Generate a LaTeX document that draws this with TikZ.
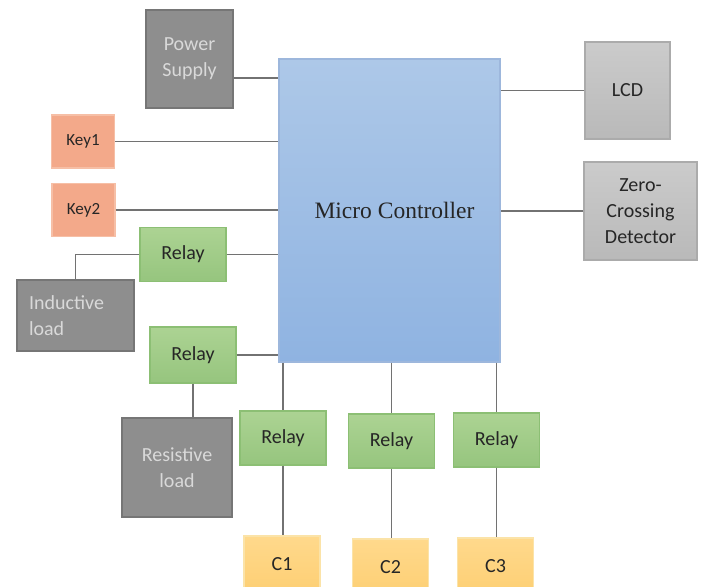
\documentclass[tikz,border=0pt]{standalone}
\usepackage{fontspec}
\setmainfont{Carlito}
\newfontfamily\serifmc{Liberation Serif}
\usetikzlibrary{calc}

%--------------------------------------------
% Cores do diagrama
%--------------------------------------------
\definecolor{linha}{HTML}{727272}
\definecolor{azulA}{HTML}{ADC8E8}
\definecolor{azulB}{HTML}{8FB3E1}
\definecolor{azulBorda}{HTML}{9DB7DC}
\definecolor{cinzaEsc}{HTML}{8E8E8E}
\definecolor{cinzaEscBorda}{HTML}{767676}
\definecolor{cinzaCla}{HTML}{CBCBCB}
\definecolor{cinzaClaB}{HTML}{B9B9B9}
\definecolor{cinzaClaBorda}{HTML}{ABABAB}
\definecolor{laranja}{HTML}{F3A98A}
\definecolor{laranjaBorda}{HTML}{F6BFA6}
\definecolor{verdeA}{HTML}{ACD393}
\definecolor{verdeB}{HTML}{96C57E}
\definecolor{verdeBorda}{HTML}{8CBF74}
\definecolor{amarelo}{HTML}{FFD98C}
\definecolor{amareloB}{HTML}{FDCF74}
\definecolor{amareloBorda}{HTML}{FBE3A8}

\tikzset{
  bloco/.style={draw, line width=1.2pt, inner sep=0pt, align=center,
    font=\fontsize{20}{26}\selectfont},
  escuro/.style={bloco, fill=cinzaEsc, draw=cinzaEscBorda, text=white!85!black},
  claro/.style={bloco, top color=cinzaCla, bottom color=cinzaClaB,
    draw=cinzaClaBorda, text=black!85},
  tecla/.style={bloco, fill=laranja, draw=laranjaBorda, text=black!85,
    minimum width=63pt, minimum height=53pt, font=\fontsize{17}{22}\selectfont},
  rele/.style={bloco, top color=verdeA, bottom color=verdeB, draw=verdeBorda,
    text=black!85, minimum width=86pt, minimum height=54pt},
  carga/.style={bloco, top color=amarelo, bottom color=amareloB,
    draw=amareloBorda, text=black!85, minimum width=76pt, minimum height=56pt},
  fio/.style={draw=linha, line width=1.5pt}
}

\begin{document}
\begin{tikzpicture}[x=1pt, y=-1pt]

  \clip (0,0) rectangle (701,586);
  \fill[white] (0,0) rectangle (701,586);

  %--------------------------------------------
  % Bloco central (micro controlador)
  %--------------------------------------------
  \node[bloco, top color=azulA, bottom color=azulB, draw=azulBorda,
    minimum width=221pt, minimum height=303pt,
    font=\serifmc\fontsize{23.5}{28}\selectfont, text=black!85]
    (mc) at (389.5, 210.5) {\hspace*{10pt}Micro Controller};

  %--------------------------------------------
  % Entradas do lado esquerdo
  %--------------------------------------------
  \node[escuro, minimum width=87pt, minimum height=98pt]
    (power) at (189.5, 59) {Power\\Supply};
  \node[tecla] (key1) at (83, 141.5) {Key1};
  \node[tecla] (key2) at (83.5, 210) {Key2};

  %--------------------------------------------
  % Reles e cargas AC
  %--------------------------------------------
  \node[rele] (rel1) at (183, 254.5) {Relay};
  \node[escuro, minimum width=117pt, minimum height=71pt, text width=93pt,
    align=left] (ind) at (75.5, 315.5) {Inductive\\load};
  \node[rele, minimum height=56pt] (rel2) at (193, 355) {Relay};
  \node[escuro, minimum width=110pt, minimum height=99pt]
    (res) at (177, 467.5) {Resistive\\load};

  %--------------------------------------------
  % Saidas do lado direito
  %--------------------------------------------
  \node[claro, minimum width=85pt, minimum height=97pt]
    (lcd) at (627.5, 90.5) {LCD};
  \node[claro, minimum width=113pt, minimum height=98pt]
    (zcd) at (640.5, 211) {Zero-\\Crossing\\Detector};

  %--------------------------------------------
  % Reles inferiores e capacitores
  % Cada trio (n/x/y) indica:
  %   n -> indice do rele / capacitor
  %   x -> posicao horizontal
  %   y -> posicao vertical do rele
  %--------------------------------------------
  \foreach \n/\x/\y in {1/283/438, 2/391.5/441, 3/496.5/440}
  {
    \node[rele] (relc\n) at (\x, \y) {Relay};
    \node[carga] (c\n) at (\x - 1, \y + 126) {C\n};

    % Ligacao do micro controlador ao rele e do rele ao capacitor
    \draw[fio] (relc\n.north |- mc.south) -- (relc\n.north);
    \draw[fio] (relc\n.south) -- (c\n.north -| relc\n.south);
  }

  %--------------------------------------------
  % Ligacoes horizontais
  %--------------------------------------------
  \draw[fio] ([yshift=-19pt]power.east) -- ([yshift=-19pt]power.east -| mc.west);
  \draw[fio] (key1.east) -- (key1.east -| mc.west);
  \draw[fio] (key2.east) -- (key2.east -| mc.west);
  \draw[fio] (rel1.east) -- (rel1.east -| mc.west);
  \draw[fio] (rel2.east) -- (rel2.east -| mc.west);
  \draw[fio] (lcd.west) -- (lcd.west -| mc.east);
  \draw[fio] (zcd.west) -- (zcd.west -| mc.east);

  % Reles ligados as cargas
  \draw[fio] (rel1.west) -- (rel1.west -| ind.north) -- (ind.north);
  \draw[fio] (rel2.south) -- (rel2.south |- res.north);

\end{tikzpicture}
\end{document}
